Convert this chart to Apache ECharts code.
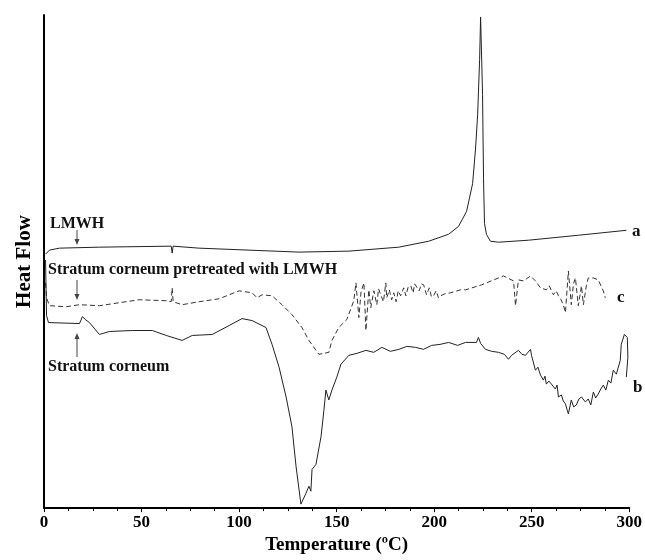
<!DOCTYPE html>
<html>
<head>
<meta charset="utf-8">
<script src="https://cdn.jsdelivr.net/npm/echarts@6/dist/echarts.min.js"></script>
<style>
  html, body { margin: 0; padding: 0; background: #fff; }
  #chart { width: 645px; height: 560px; }
</style>
</head>
<body>
<div id="chart"></div>
<script>
// x axis ticks
const xTicks = [0, 50, 100, 150, 200, 250, 300];

// curve a: LMWH
const tempA = [0.8, 2.8, 7.9, 28.4, 65.2, 65.7, 66.2, 79.5, 105.1, 130.7, 156.3, 181.9, 197.2, 207.4, 212.5, 216.6, 219.7, 221.2, 222.3, 223.3, 223.8, 224.3, 224.8, 225.3, 225.8, 226.8, 228.8, 233.0, 248.3, 273.9, 298.5];
const heatA = [256, 260, 262, 263, 264, 257, 264, 262, 260, 258, 259, 263, 269, 276, 284, 299, 327, 362, 397, 452, 495, 495, 417, 332, 287, 276, 269, 268, 270, 275, 280];

// curve b: stratum corneum
const tempB = [0.8, 1.3, 2.3, 18.2, 19.7, 21.2, 23.3, 28.4, 33.5, 45.3, 55.5, 62.7, 70.8, 76.0, 86.2, 94.9, 101.5, 106.7, 113.8, 116.9, 120.5, 124.1, 127.1, 129.2, 131.7, 134.3, 135.8, 136.8, 137.4, 139.4, 142.0, 143.5, 144.5, 146.0, 147.6, 150.1, 152.2, 156.3, 160.5, 165.0, 169.0, 173.2, 177.5, 181.9, 186.0, 190.5, 194.5, 198.7, 203.0, 207.4, 212.0, 216.1, 221.7, 222.7, 223.8, 226.3, 229.5, 233.0, 236.0, 238.1, 239.7, 243.2, 245.0, 246.8, 249.4, 249.9, 251.9, 253.2, 254.5, 256.0, 256.8, 257.5, 258.8, 260.1, 262.1, 263.0, 263.7, 265.2, 266.2, 267.3, 268.3, 268.8, 270.3, 271.5, 272.9, 274.2, 275.5, 277.5, 279.0, 280.3, 281.6, 282.8, 284.1, 285.4, 286.7, 288.0, 289.3, 290.6, 291.8, 293.4, 295.4, 295.9, 297.5, 299.0, 299.3, 298.5];
const heatB = [250, 194, 187, 186, 193, 190, 187, 175, 178, 179, 179, 174, 169, 174, 175, 184, 191, 189, 182, 165, 142, 112, 82, 42, 4, 15, 22, 17, 39, 44, 72, 99, 119, 109, 119, 132, 145, 154, 156, 159, 157, 162, 158, 160, 163, 162, 160, 164, 165, 167, 164, 167, 167, 172, 166, 160, 158, 157, 155, 150, 154, 159, 155, 154, 160, 154, 139, 142, 134, 129, 133, 125, 128, 125, 120, 124, 112, 114, 108, 105, 98, 95, 109, 102, 104, 110, 112, 107, 110, 104, 117, 111, 115, 120, 124, 119, 129, 126, 139, 135, 149, 165, 175, 172, 152, 132];

// curve c: stratum corneum pretreated with LMWH
const tempC = [0.8, 1.3, 2.8, 11.5, 18.2, 28.4, 48.8, 62.7, 65.2, 65.7, 66.2, 70.8, 79.5, 89.8, 94.9, 100.0, 106.7, 109.2, 111.8, 116.9, 122.0, 127.1, 132.2, 135.8, 140.9, 146.0, 147.6, 151.1, 155.2, 158.8, 159.9, 161.4, 162.5, 164.0, 165.0, 166.5, 167.5, 169.1, 170.6, 171.5, 172.6, 174.0, 175.2, 175.7, 177.0, 178.2, 179.3, 180.5, 181.6, 182.8, 184.4, 185.5, 186.7, 188.0, 189.2, 190.0, 191.0, 192.3, 193.5, 194.6, 196.1, 197.5, 198.6, 199.7, 201.0, 202.2, 203.3, 205.5, 208.4, 213.5, 216.1, 224.3, 233.0, 235.5, 240.7, 241.7, 243.2, 245.8, 249.4, 251.9, 254.5, 257.5, 259.0, 261.1, 262.5, 263.7, 265.0, 266.2, 267.3, 268.8, 270.3, 271.4, 272.4, 273.9, 275.5, 276.5, 278.0, 279.0, 281.6, 284.1, 286.7, 287.7];
const heatC = [227, 212, 204, 203, 205, 204, 210, 209, 208, 222, 208, 205, 208, 211, 215, 219, 217, 212, 215, 214, 205, 195, 182, 169, 155, 157, 169, 182, 190, 209, 227, 192, 218, 227, 179, 220, 202, 219, 205, 221, 215, 208, 227, 212, 220, 210, 217, 208, 219, 214, 222, 214, 223, 224, 217, 226, 227, 219, 226, 225, 215, 222, 213, 214, 219, 212, 214, 216, 217, 220, 220, 225, 232, 234, 229, 204, 230, 229, 234, 229, 222, 220, 224, 215, 219, 214, 210, 205, 197, 239, 205, 226, 232, 204, 224, 205, 224, 232, 232, 230, 219, 212];

const pairs = (xs, ys) => xs.map((x, i) => [x, ys[i]]);

const chart = echarts.init(document.getElementById('chart'));

const serif = '"Liberation Serif", "DejaVu Serif", serif';

// small arrow: vertical line with head
const arrow = (x, y1, y2) => {
    const dir = y2 > y1 ? 1 : -1;
    return [
        {
            type: 'line',
            shape: { x1: x, y1: y1, x2: x, y2: y2 - dir * 5 },
            style: { stroke: '#444', lineWidth: 1 }
        },
        {
            type: 'polygon',
            shape: { points: [[x - 2.5, y2 - dir * 6], [x + 2.5, y2 - dir * 6], [x, y2]] },
            style: { fill: '#444' }
        }
    ];
};

const txt = (x, y, text, size, align) => ({
    type: 'text',
    x: x,
    y: y,
    style: {
        text: text,
        font: 'bold ' + size + 'px ' + serif,
        fill: '#111',
        textAlign: align || 'left',
        textVerticalAlign: 'middle'
    }
});

const option = {
    backgroundColor: '#fff',
    animation: false,
    grid: { left: 44, right: 14, top: 15, bottom: 48 },
    xAxis: {
        type: 'value',
        min: 0,
        max: 300,
        interval: 50,
        name: 'Temperature (ºC)',
        nameLocation: 'middle',
        nameGap: 24,
        nameTextStyle: { fontFamily: serif, fontWeight: 'bold', fontSize: 19, color: '#000' },
        axisLine: { lineStyle: { color: '#000', width: 2 } },
        axisTick: { length: 4, lineStyle: { color: '#000', width: 1 } },
        minorTick: { show: true, splitNumber: 4, length: 3, lineStyle: { color: '#000' } },
        axisLabel: {
            fontFamily: serif, fontWeight: 'bold', fontSize: 17, color: '#000', margin: 6,
            formatter: v => xTicks.includes(v) ? String(v) : ''
        },
        splitLine: { show: false }
    },
    yAxis: {
        type: 'value',
        min: 0,
        max: 497,
        name: 'Heat Flow',
        nameLocation: 'middle',
        nameGap: 9,
        nameTextStyle: { fontFamily: serif, fontWeight: 'bold', fontSize: 21, color: '#000' },
        axisLine: { show: true, lineStyle: { color: '#000', width: 2 } },
        axisTick: { show: false },
        axisLabel: { show: false },
        splitLine: { show: false }
    },
    series: [
        {
            name: 'a',
            type: 'line',
            showSymbol: false,
            data: pairs(tempA, heatA),
            lineStyle: { color: '#222', width: 1 }
        },
        {
            name: 'c',
            type: 'line',
            showSymbol: false,
            data: pairs(tempC, heatC),
            lineStyle: { color: '#333', width: 1, type: [5, 3] }
        },
        {
            name: 'b',
            type: 'line',
            showSymbol: false,
            data: pairs(tempB, heatB),
            lineStyle: { color: '#222', width: 1 }
        }
    ],
    graphic: [
        txt(50, 224, 'LMWH', 16),
        txt(48, 270, 'Stratum corneum pretreated with LMWH', 16),
        txt(48, 367, 'Stratum corneum', 16),
        txt(632, 232, 'a', 17),
        txt(617, 298, 'c', 17),
        txt(633, 388, 'b', 17),
        ...arrow(77, 230, 245),
        ...arrow(77, 280, 300),
        ...arrow(77, 357, 333)
    ]
};

chart.setOption(option);
</script>
</body>
</html>
